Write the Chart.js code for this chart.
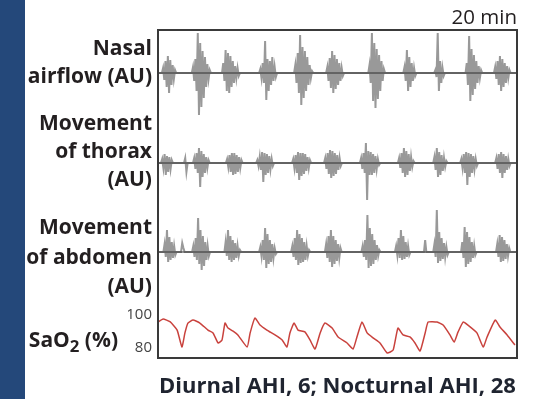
<!DOCTYPE html>
<html>
<head>
<meta charset="utf-8">
<script src="https://cdn.jsdelivr.net/npm/chart.js@4.4.1/dist/chart.umd.min.js"></script>
<style>
  html, body { margin: 0; padding: 0; background: #fff; }
  #wrap { position: relative; width: 541px; height: 399px; overflow: hidden; font-family: 'Open Sans', sans-serif; color: #231f20; }
  #bar { position: absolute; left: 0; top: 0; width: 25px; height: 399px; background: #24487a; }
  #box { position: absolute; left: 0; top: 0; width: 541px; height: 399px; }
  .lbl { position: absolute; right: 389px; text-align: right; font-weight: 700; font-size: 21px; line-height: 28px; white-space: nowrap; }
  .lbl sub { font-size: 0.8em; line-height: 0; vertical-align: -0.3em; }
  #span { position: absolute; right: 24px; top: 6px; font-size: 20.5px; line-height: 20px; }
  #caption { position: absolute; left: 157px; width: 361px; top: 373px; text-align: center; font-weight: 700; font-size: 22px; line-height: 22px; color: #1f2430; white-space: nowrap; }
</style>
</head>
<body>
<div id="wrap">
  <div id="box"><canvas id="psg"></canvas></div>
  <div id="bar"></div>
  <div class="lbl" style="top:33px">Nasal<br>airflow (AU)</div>
  <div class="lbl" style="top:108px">Movement<br>of thorax<br>(AU)</div>
  <div class="lbl" style="top:212px; line-height:29.5px">Movement<br>of abdomen<br>(AU)</div>
  <div class="lbl" style="top:325px; right:423px">SaO<sub>2</sub> (%)</div>
  <div id="span">20 min</div>
  <div id="caption">Diurnal AHI, 6; Nocturnal AHI, 28</div>
</div>
<script>
var ctx = document.getElementById('psg')

// 20 minute window, time in seconds
const totalSec = 1200
const step = 4 // seconds between samples inside a breathing burst

// nasal airflow bursts (AU)
const nasalStart = [13, 113, 214, 338, 455, 562, 703, 820, 923, 1028, 1123]
const nasalBursts = [
  [0, 5, -7, 12, -14, 17, -20, 13, -12, 8, -6, 3, 0],
  [0, 6, -8, 14, -18, 40, -42, 30, -34, 22, -25, 16, -14, 9, -6, 3, 0],
  [0, 10, -8, 23, -18, 20, -20, 17, -14, 12, -10, 7, -5, 5, -3, 0],
  [0, 4, -5, 10, -10, 32, -27, 14, -18, 12, -12, 16, -8, 6, -4, 0],
  [0, 8, -10, 20, -20, 38, -32, 26, -25, 22, -18, 16, -12, 8, -5, 2, 0],
  [0, 6, -8, 15, -15, 22, -20, 18, -16, 14, -12, 10, -8, 5, -3, 0],
  [0, 8, -10, 40, -28, 30, -35, 24, -26, 18, -18, 12, -8, 4, 0],
  [0, 6, -8, 23, -18, 16, -14, 10, -8, 5, -3, 0],
  [0, 3, -4, 40, -18, 12, -10, 5, -3, 0],
  [0, 10, -12, 37, -28, 24, -22, 18, -16, 12, -10, 7, -5, 3, 0],
  [0, 6, -6, 12, -12, 17, -18, 14, -14, 10, -10, 7, -5, 3, 0]
]

// thorax movement bursts (AU)
const thoraxStart = [10, 87, 117, 227, 328, 448, 555, 675, 802, 920, 1010, 1127]
const thoraxBursts = [
  [0, 4, -5, 9, -12, 7, -9, 6, -6, 3, 0],
  [0, 5, -9, 0],
  [0, 5, -6, 10, -10, 15, -24, 12, -14, 9, -10, 6, -5, 3, 0],
  [0, 4, -4, 8, -9, 10, -12, 10, -11, 8, -9, 6, -5, 3, 0],
  [0, 3, -3, 6, -7, 11, -19, 10, -12, 9, -10, 7, -6, 4, -3, 0],
  [0, 4, -5, 8, -10, 11, -17, 10, -13, 10, -11, 9, -8, 6, -5, 3, 0],
  [0, 5, -6, 10, -11, 13, -15, 12, -13, 10, -11, 8, -7, 5, -3, 0],
  [0, 5, -6, 10, -10, 20, -37, 12, -12, 11, -12, 9, -10, 7, -6, 4, -2, 0],
  [0, 5, -5, 10, -10, 15, -14, 12, -12, 9, -8, 6, -4, 2, 0],
  [0, 6, -7, 15, -14, 11, -12, 8, -8, 5, -4, 2, 0],
  [0, 4, -5, 9, -10, 11, -22, 10, -14, 9, -10, 7, -6, 4, -3, 0],
  [0, 5, -6, 9, -10, 11, -15, 9, -10, 7, -7, 4, -3, 0]
]

// abdomen movement bursts (AU)
const abdomenStart = [18, 77, 114, 222, 338, 445, 558, 680, 792, 889, 920, 1013, 1130]
const abdomenBursts = [
  [0, 8, -5, 22, -10, 15, -8, 10, -6, 6, -3, 0],
  [0, 9, 4, 0],
  [0, 6, -5, 14, -8, 34, -12, 22, -18, 16, -14, 10, -8, 6, -4, 0],
  [0, 10, -4, 22, -8, 16, -10, 12, -8, 9, -6, 6, -4, 2, 0],
  [0, 5, -4, 12, -8, 24, -16, 18, -12, 12, -10, 8, -6, 4, -2, 0],
  [0, 6, -5, 14, -8, 22, -13, 18, -11, 14, -10, 10, -8, 6, -4, 2, 0],
  [0, 8, -6, 16, -10, 22, -15, 16, -12, 12, -9, 8, -6, 4, 0],
  [0, 6, -5, 12, -8, 37, -16, 24, -14, 18, -12, 12, -8, 7, -4, 2, 0],
  [0, 6, -3, 14, -6, 22, -8, 16, -7, 10, -5, 6, -3, 0],
  [0, 12, 0],
  [0, 8, -5, 42, -11, 20, -9, 14, -7, 9, -5, 5, -3, 0],
  [0, 10, -6, 25, -15, 20, -12, 15, -10, 10, -6, 6, -3, 0],
  [0, 8, -5, 17, -10, 15, -9, 12, -7, 8, -4, 4, 0]
]

// oxygen saturation (%)
const satTime = [0, 17, 40, 64, 80, 90, 100, 117, 140, 167, 184, 201, 214, 224, 234, 251, 267, 298,
  308, 324, 341, 364, 391, 415, 431, 441, 455, 468, 491, 508, 525, 542, 558, 582, 602, 632, 652,
  665, 682, 699, 719, 742, 766, 786, 802, 819, 842, 859, 876, 893, 903, 933, 953, 976, 990, 1003,
  1020, 1036, 1066, 1087, 1100, 1127, 1143, 1167, 1193]
const satValue = [95.5, 97.3, 95.7, 90.7, 80.6, 89, 94.9, 96.7, 94.9, 90.7, 89, 83, 84.8, 94.9, 91.9, 90.1, 87.8, 80.6,
  89, 97.9, 93.7, 90.7, 87.8, 84.8, 80.6, 89, 94.9, 90.7, 89.6, 84.8, 79.4, 89, 94.9, 91.9, 86.6, 83, 79.4,
  86.6, 95.5, 89, 86, 83, 77, 78.8, 91.9, 87.8, 86.6, 83, 78.2, 89, 95.5, 95.5, 93.7, 87.8, 83.6, 89.6,
  95.5, 93.7, 89, 80.6, 86.6, 96.7, 92.5, 87.8, 81.8]
const satTicks = [80, 100]

function trace(starts, bursts) {
  let pts = [{x: 0, y: 0}]
  starts.forEach((s, i) => {
    bursts[i].forEach((v, j) => pts.push({x: s + j * step, y: v}))
  })
  pts.push({x: totalSec, y: 0})
  return pts
}

const baseline = [{x: 0, y: 0}, {x: totalSec, y: 0}]

const frame = {
  id: 'frame',
  afterDraw(chart) {
    const a = chart.chartArea
    const c = chart.ctx
    c.save()
    c.strokeStyle = '#3a3a3a'
    c.lineWidth = 2
    c.strokeRect(a.left, a.top, a.right - a.left, a.bottom - a.top)
    c.restore()
  }
}

function hiddenAxis(weight, min, max) {
  return {
    position: 'left', stack: 'psg', stackWeight: weight, min: min, max: max,
    grid: {display: false, drawTicks: false}, border: {display: false}, ticks: {display: false},
    afterFit: s => { s.width = 30 }
  }
}

const waveColor = 'rgba(80, 80, 80, 0.58)'
const lineColor = '#2e2e2e'

function wave(data, axis) {
  return {data: data, yAxisID: axis, borderColor: waveColor, borderWidth: 2, pointRadius: 0, order: 2}
}
function base(axis) {
  return {data: baseline, yAxisID: axis, borderColor: lineColor, borderWidth: 1, pointRadius: 0, order: 1}
}

new Chart(ctx, {
  type: 'line',
  data: {
    datasets: [
      wave(trace(nasalStart, nasalBursts), 'yNasal'),
      wave(trace(thoraxStart, thoraxBursts), 'yThx'),
      wave(trace(abdomenStart, abdomenBursts), 'yAbd'),
      base('yNasal'), base('yThx'), base('yAbd'),
      {data: satTime.map((t, i) => ({x: t, y: satValue[i]})), yAxisID: 'ySat', borderColor: '#c9423d', borderWidth: 1.5, pointRadius: 0, tension: 0.15}
    ]
  },
  options: {
    responsive: true,
    maintainAspectRatio: false,
    animation: false,
    layout: {padding: {left: 128, right: 24, top: 30, bottom: 41}},
    plugins: {legend: {display: false}, tooltip: {enabled: false}},
    scales: {
      x: {type: 'linear', min: 0, max: totalSec, display: false},
      ySat: {
        position: 'left', stack: 'psg', stackWeight: 58, min: 74.03, max: 108.66,
        grid: {display: false, drawTicks: false}, border: {display: false},
        ticks: {color: '#444', padding: 6, font: {family: 'Open Sans', size: 15}},
        afterBuildTicks: s => { s.ticks = satTicks.map(v => ({value: v})) },
        afterFit: s => { s.width = 30 }
      },
      yAbd: hiddenAxis(92, -48, 44),
      yThx: hiddenAxis(90, -45, 45),
      yNasal: hiddenAxis(88, -45, 43)
    }
  },
  plugins: [frame]
})
</script>
</body>
</html>
